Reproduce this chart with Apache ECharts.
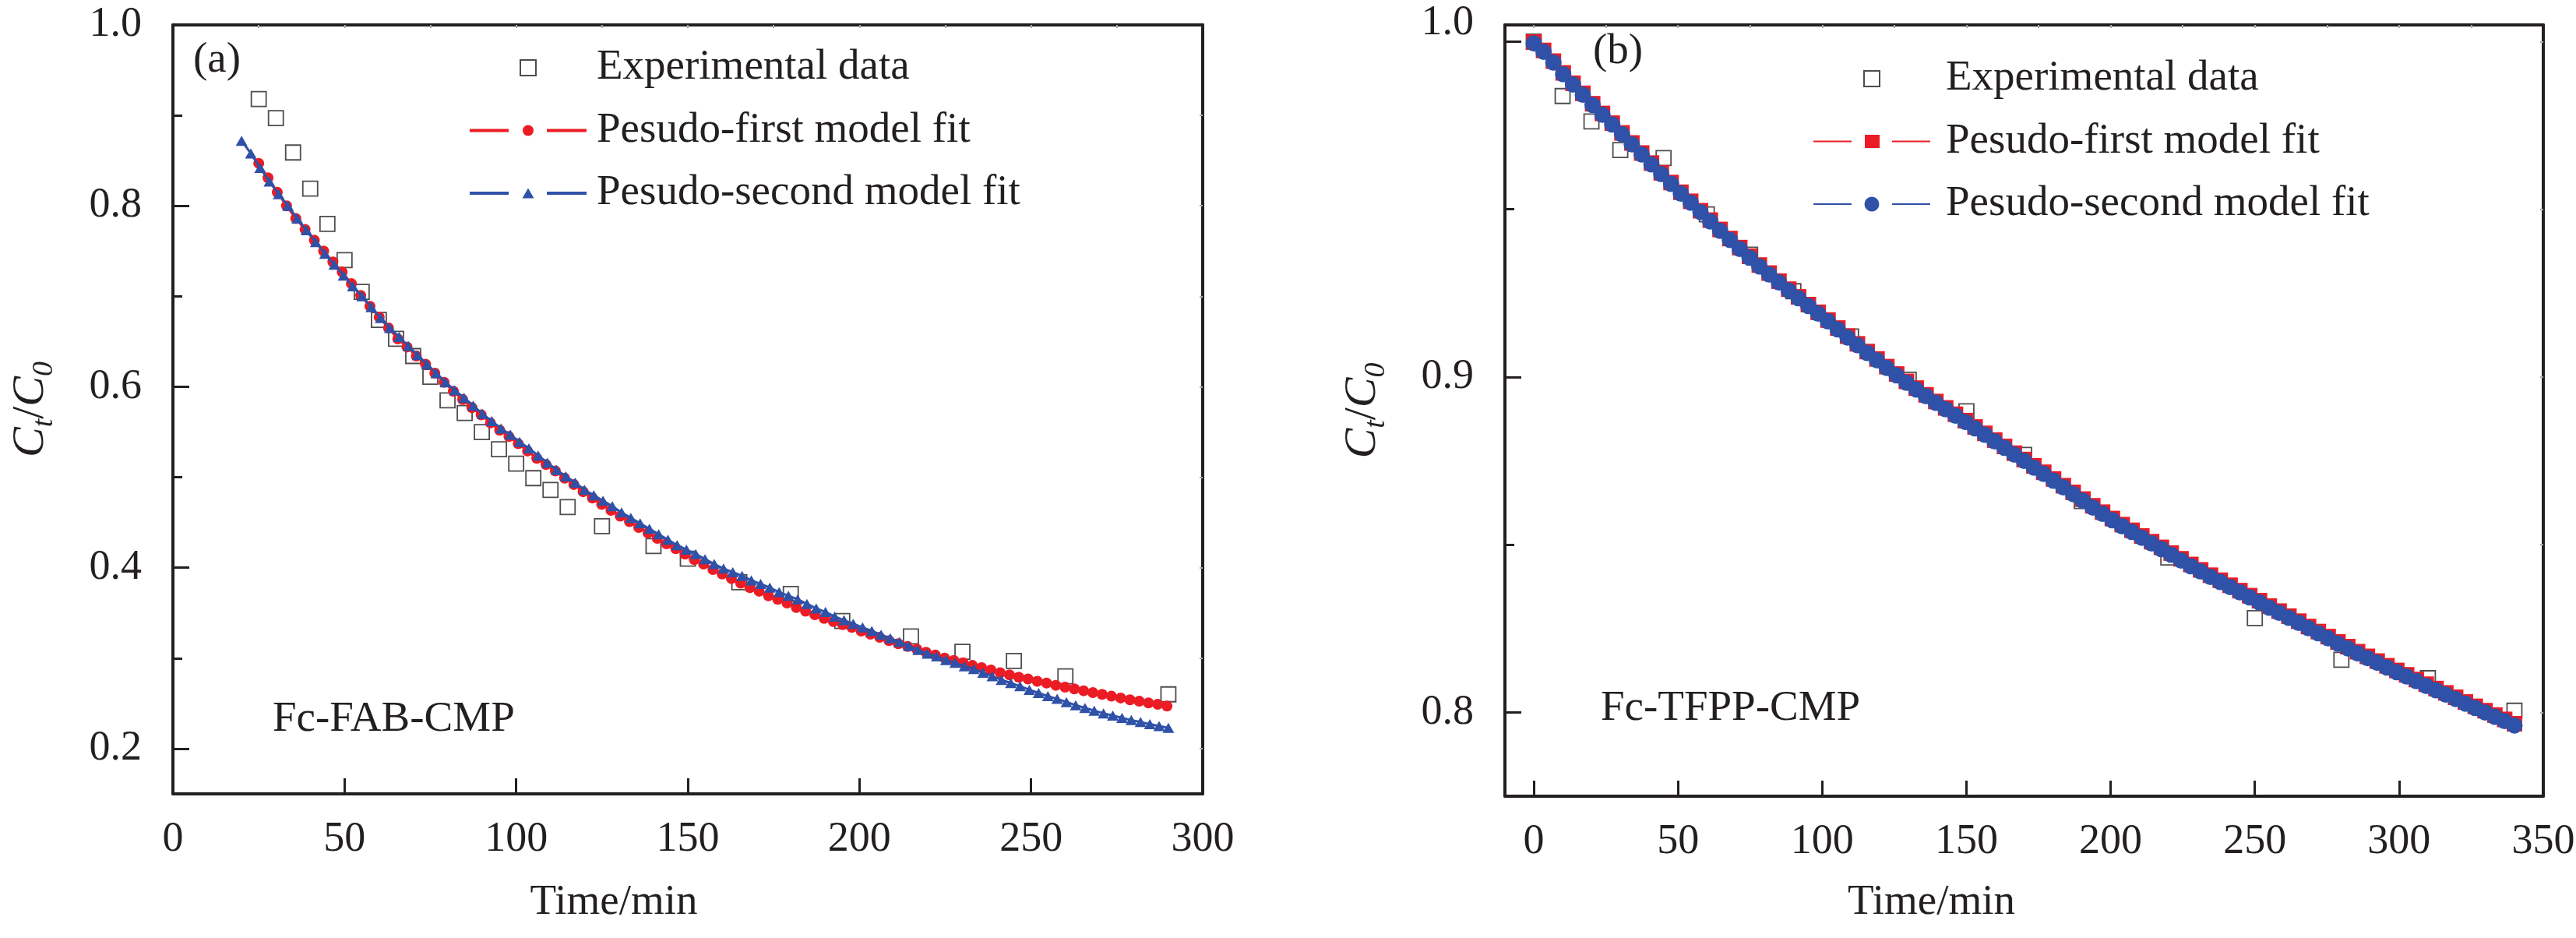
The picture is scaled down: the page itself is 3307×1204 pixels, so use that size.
<!DOCTYPE html>
<html>
<head>
<meta charset="utf-8">
<script src="https://cdn.jsdelivr.net/npm/echarts@6/dist/echarts.min.js"></script>
<style>html,body{margin:0;padding:0;background:#fff}#c{width:3307px;height:1204px}</style>
</head>
<body>
<div id="c"></div>
<script>
// ---------- Panel (a): Fc-FAB-CMP ----------
const leftExpT = [25,30,35,40,45,50,55,60,65,70,75,80,85,90,95,100,105,110,115,125,140,150,165,180,195,215,230,245,260,290];
const leftExpV = [0.918,0.897,0.859,0.819,0.780,0.740,0.705,0.674,0.653,0.634,0.611,0.585,0.571,0.550,0.531,0.515,0.499,0.486,0.467,0.446,0.424,0.410,0.384,0.371,0.341,0.324,0.307,0.297,0.280,0.260];

const leftP1T = [25.0,27.7,30.4,33.1,35.8,38.5,41.2,43.9,46.6,49.3,52.0,54.7,57.4,60.1,62.8,65.5,68.2,70.9,73.6,76.3,79.0,81.7,84.4,87.1,89.8,92.5,95.2,97.9,100.6,103.3,106.0,108.7,111.4,114.1,116.8,119.5,122.2,124.9,127.6,130.3,133.0,135.7,138.4,141.1,143.8,146.5,149.2,151.9,154.6,157.3,160.0,162.7,165.4,168.1,170.8,173.5,176.2,178.9,181.6,184.3,187.0,189.7,192.4,195.1,197.8,200.5,203.2,205.9,208.6,211.3,214.0,216.7,219.4,222.1,224.8,227.5,230.2,232.9,235.6,238.3,241.0,243.7,246.4,249.1,251.8,254.5,257.2,259.9,262.6,265.3,268.0,270.7,273.4,276.1,278.8,281.5,284.2,286.9,289.6];
const leftP1V = [0.847,0.831,0.815,0.800,0.786,0.774,0.762,0.750,0.738,0.727,0.714,0.701,0.689,0.677,0.665,0.653,0.644,0.634,0.625,0.615,0.605,0.595,0.586,0.577,0.569,0.560,0.552,0.545,0.537,0.529,0.521,0.514,0.507,0.499,0.492,0.484,0.477,0.470,0.4635,0.457,0.451,0.4445,0.4385,0.4325,0.4265,0.421,0.415,0.409,0.404,0.398,0.393,0.388,0.383,0.378,0.374,0.369,0.365,0.361,0.356,0.352,0.348,0.344,0.3405,0.337,0.334,0.330,0.3265,0.323,0.3195,0.316,0.313,0.310,0.3065,0.3035,0.300,0.2975,0.295,0.292,0.2895,0.287,0.284,0.2815,0.279,0.277,0.2745,0.2725,0.270,0.268,0.266,0.264,0.262,0.260,0.258,0.256,0.254,0.2525,0.2505,0.249,0.247];

const leftP2T = [20.0,22.7,25.4,28.1,30.8,33.5,36.2,38.9,41.6,44.3,47.0,49.7,52.4,55.1,57.8,60.5,63.2,65.9,68.6,71.3,74.0,76.7,79.4,82.1,84.8,87.5,90.2,92.9,95.6,98.3,101.0,103.7,106.4,109.1,111.8,114.5,117.2,119.9,122.6,125.3,128.0,130.7,133.4,136.1,138.8,141.5,144.2,146.9,149.6,152.3,155.0,157.7,160.4,163.1,165.8,168.5,171.2,173.9,176.6,179.3,182.0,184.7,187.4,190.1,192.8,195.5,198.2,200.9,203.6,206.3,209.0,211.7,214.4,217.1,219.8,222.5,225.2,227.9,230.6,233.3,236.0,238.7,241.4,244.1,246.8,249.5,252.2,254.9,257.6,260.3,263.0,265.7,268.4,271.1,273.8,276.5,279.2,281.9,284.6,287.3,290.0];
const leftP2V = [0.872,0.858,0.842,0.827,0.813,0.800,0.786,0.773,0.760,0.747,0.735,0.723,0.711,0.700,0.688,0.676,0.665,0.655,0.645,0.635,0.625,0.615,0.605,0.596,0.588,0.579,0.570,0.562,0.554,0.547,0.539,0.532,0.524,0.516,0.508,0.501,0.494,0.486,0.480,0.474,0.468,0.461,0.455,0.449,0.443,0.437,0.431,0.425,0.420,0.415,0.4095,0.404,0.399,0.395,0.391,0.386,0.382,0.378,0.373,0.369,0.365,0.360,0.355,0.351,0.346,0.342,0.338,0.334,0.330,0.326,0.322,0.318,0.3135,0.309,0.305,0.302,0.298,0.295,0.291,0.288,0.284,0.280,0.276,0.2725,0.269,0.265,0.2615,0.258,0.255,0.2515,0.248,0.245,0.242,0.239,0.2365,0.234,0.2315,0.2295,0.227,0.225,0.223];

// ---------- Panel (b): Fc-TFPP-CMP ----------
const rightExpT = [0,10,20,30,45,60,75,90,110,130,150,170,190,220,250,280,310,340];
const rightExpV = [1.000,0.9838,0.9762,0.9677,0.9653,0.9485,0.9365,0.9256,0.9121,0.8992,0.8898,0.8768,0.8630,0.8462,0.8281,0.8157,0.8102,0.8005];

const rightFitT = [0,3.4,6.8,10.2,13.6,17.0,20.4,23.8,27.2,30.6,34.0,37.4,40.8,44.2,47.6,51.0,54.4,57.8,61.2,64.6,68.0,71.4,74.8,78.2,81.6,85.0,88.4,91.8,95.2,98.6,102.0,105.4,108.8,112.2,115.6,119.0,122.4,125.8,129.2,132.6,136.0,139.4,142.8,146.2,149.6,153.0,156.4,159.8,163.2,166.6,170.0,173.4,176.8,180.2,183.6,187.0,190.4,193.8,197.2,200.6,204.0,207.4,210.8,214.2,217.6,221.0,224.4,227.8,231.2,234.6,238.0,241.4,244.8,248.2,251.6,255.0,258.4,261.8,265.2,268.6,272.0,275.4,278.8,282.2,285.6,289.0,292.4,295.8,299.2,302.6,306.0,309.4,312.8,316.2,319.6,323.0,326.4,329.8,333.2,336.6,340.0];
const rightP1V = [0.9999,0.9974,0.9942,0.9907,0.9876,0.9846,0.9815,0.9786,0.9757,0.9728,
0.9698,0.9668,0.9638,0.9609,0.9580,0.9551,0.9524,0.9496,0.9468,0.9440,
0.9413,0.9386,0.9360,0.9334,0.9310,0.9286,0.9262,0.9239,0.9216,0.9193,
0.9170,0.9146,0.9122,0.9099,0.9076,0.9054,0.9031,0.9009,0.8987,0.8967,
0.8947,0.8927,0.8908,0.8889,0.8870,0.8851,0.8832,0.8812,0.8793,0.8773,
0.8754,0.8735,0.8716,0.8696,0.8676,0.8656,0.8636,0.8616,0.8597,0.8578,
0.8560,0.8543,0.8526,0.8509,0.8492,0.8475,0.8458,0.8441,0.8425,0.8409,
0.8394,0.8379,0.8363,0.8348,0.8333,0.8317,0.8302,0.8287,0.8272,0.8256,
0.8241,0.8226,0.8210,0.8196,0.8181,0.8167,0.8153,0.8139,0.8125,0.8112,
0.8098,0.8084,0.8071,0.8058,0.8045,0.8031,0.8018,0.8005,0.7992,0.7979,
0.7966];
const rightP2V = [0.9995,0.9970,0.9938,0.9903,0.9872,0.9842,0.9811,0.9782,0.9753,0.9724,
0.9694,0.9664,0.9634,0.9605,0.9576,0.9547,0.9520,0.9492,0.9464,0.9436,
0.9409,0.9382,0.9356,0.9330,0.9306,0.9282,0.9258,0.9235,0.9212,0.9189,
0.9166,0.9142,0.9118,0.9095,0.9072,0.9050,0.9027,0.9005,0.8983,0.8963,
0.8943,0.8923,0.8904,0.8885,0.8866,0.8847,0.8828,0.8808,0.8789,0.8769,
0.8750,0.8730,0.8711,0.8691,0.8671,0.8651,0.8631,0.8611,0.8592,0.8573,
0.8555,0.8538,0.8521,0.8504,0.8487,0.8470,0.8453,0.8436,0.8420,0.8404,
0.8389,0.8374,0.8358,0.8343,0.8328,0.8312,0.8297,0.8282,0.8267,0.8251,
0.8236,0.8221,0.8205,0.8191,0.8176,0.8162,0.8148,0.8134,0.8120,0.8107,
0.8093,0.8079,0.8066,0.8053,0.8040,0.8026,0.8013,0.8000,0.7987,0.7974,
0.7961];

// ---------- Tick values ----------
const leftXLabels = [0,50,100,150,200,250,300];
const leftXTicks = [50,100,150,200,250];
const leftTopTicks = [25,50,75,100,125,150,175,200,225,250,275];
const leftYLabels = [0.2,0.4,0.6,0.8,1.0];
const leftYMinor = [0.3,0.5,0.7,0.9];
const leftRightTicks = [0.2,0.3,0.4,0.5,0.6,0.7,0.8,0.9];

const rightXLabels = [0,50,100,150,200,250,300,350];
const rightXTicks = [0,50,100,150,200,250,300];
const rightTopTicks = [0,25,50,75,100,125,150,175,200,225,250,275,300,325];
const rightYLabels = [0.8,0.9,1.0];
const rightYMinor = [0.85,0.95];
const rightRightTicks = [0.8,0.85,0.9,0.95,1.0];

const legendNames = ['Experimental data','Pesudo-first model fit','Pesudo-second model fit'];
const panelLabels = ['(a)','(b)'];
const sampleNames = ['Fc-FAB-CMP','Fc-TFPP-CMP'];

// ---------- Styling ----------
const FONT = '"Liberation Serif","Times New Roman",serif';
const INK = '#231f20';
const RED = '#ec1c24';
const BLUE = '#2f51a7';
const pairs = (xs, ys) => xs.map((x, i) => [x, ys[i]]);

const nameRich = {
  c:  {fontFamily: FONT, fontStyle: 'italic', fontSize: 58, color: INK, lineHeight: 64},
  sl: {fontFamily: FONT, fontSize: 58, color: INK, lineHeight: 64},
  s:  {fontFamily: FONT, fontStyle: 'italic', fontSize: 38, color: INK, lineHeight: 38, padding: [34, 0, 0, 0]}
};
const yName = '{c|C}{s|t}{sl|/}{c|C}{s|0}';

function mainX(grid, min, max, labels, ticks, padRight, gap) {
  return {
    type: 'value', gridIndex: grid, min: min, max: max, position: 'bottom',
    axisLine: {onZero: false, lineStyle: {color: INK, width: 4}},
    axisTick: {inside: true, length: 20, customValues: ticks, lineStyle: {color: INK, width: 3}},
    axisLabel: {customValues: labels, fontFamily: FONT, fontSize: 54, color: INK, margin: 32},
    splitLine: {show: false},
    name: 'Time/min', nameLocation: 'middle', nameGap: gap,
    nameTextStyle: {fontFamily: FONT, fontSize: 55, color: INK, padding: [0, padRight, 0, 0]}
  };
}
function topX(grid, min, max, ticks) {
  return {
    type: 'value', gridIndex: grid, min: min, max: max, position: 'top',
    axisLine: {onZero: false, lineStyle: {color: INK, width: 4}},
    axisTick: {inside: true, length: 4, customValues: ticks, lineStyle: {color: '#aaaaaa', width: 2}},
    axisLabel: {show: false}, splitLine: {show: false}
  };
}
function mainY(grid, min, max, labels, shiftTop) {
  return {
    type: 'value', gridIndex: grid, min: min, max: max, position: 'left',
    axisLine: {onZero: false, lineStyle: {color: INK, width: 4}},
    axisTick: {inside: true, length: 21, customValues: labels, lineStyle: {color: INK, width: 3}},
    axisLabel: {
      customValues: labels, fontFamily: FONT, fontSize: 54, color: INK, margin: 40,
      formatter: v => (shiftTop && v === 1) ? '{up|1.0}' : v.toFixed(1),
      rich: {up: {fontFamily: FONT, fontSize: 54, color: INK, padding: [0, 0, 48, 0]}}
    },
    splitLine: {show: false},
    name: yName, nameLocation: 'middle', nameGap: 150, nameRotate: 90,
    nameTextStyle: {rich: nameRich}
  };
}
function minorY(grid, min, max, ticks) {
  return {
    type: 'value', gridIndex: grid, min: min, max: max, position: 'left',
    axisLine: {show: false, onZero: false},
    axisTick: {inside: true, length: 12, customValues: ticks, lineStyle: {color: INK, width: 3}},
    axisLabel: {show: false}, splitLine: {show: false}
  };
}
function rightY(grid, min, max, ticks) {
  return {
    type: 'value', gridIndex: grid, min: min, max: max, position: 'right',
    axisLine: {onZero: false, lineStyle: {color: INK, width: 4}},
    axisTick: {inside: true, length: 4, customValues: ticks, lineStyle: {color: '#aaaaaa', width: 2}},
    axisLabel: {show: false}, splitLine: {show: false}
  };
}

const ICON_SQ = 'path://M0,0L20,0L20,20L0,20Z';
const ICON_A_RED = 'path://M0,8L50,8L50,12L0,12ZM99,8L150,8L150,12L99,12ZM68,10A7,7,0,1,1,82,10A7,7,0,1,1,68,10Z';
const ICON_A_BLUE = 'path://M0,8L50,8L50,12L0,12ZM99,8L150,8L150,12L99,12ZM75,3.5L82.5,16.5L67.5,16.5Z';
const ICON_B_RED = 'path://M0,9L49,9L49,11L0,11ZM101,9L150,9L150,11L101,11ZM66,1.5L85,1.5L85,18.5L66,18.5Z';
const ICON_B_BLUE = 'path://M0,9L49,9L49,11L0,11ZM101,9L150,9L150,11L101,11ZM65.5,10A9.5,9.5,0,1,1,84.5,10A9.5,9.5,0,1,1,65.5,10Z';

function legendBlock(left, top, suffix, iconRed, iconBlue, textPad) {
  return {
    left: left, top: top, orient: 'vertical', itemWidth: 150, itemHeight: 20, itemGap: 24.5,
    symbolKeepAspect: true, selectedMode: false,
    textStyle: {fontFamily: FONT, fontSize: 55, color: INK, lineHeight: 56, padding: [0, 0, 0, textPad]},
    data: [
      {name: legendNames[0] + suffix, icon: ICON_SQ, itemStyle: {color: 'rgba(255,255,255,0)', borderColor: INK, borderWidth: 2}},
      {name: legendNames[1] + suffix, icon: iconRed, itemStyle: {color: RED, borderWidth: 0}},
      {name: legendNames[2] + suffix, icon: iconBlue, itemStyle: {color: BLUE, borderWidth: 0}}
    ]
  };
}

function txt(x, y, s) {
  return {type: 'text', x: x, y: y, style: {text: s, fontFamily: FONT, fontSize: 55, fill: INK, align: 'left', verticalAlign: 'middle'}};
}

const option = {
  animation: false,
  backgroundColor: '#ffffff',
  grid: [
    {left: 222, top: 32, width: 1322, height: 987, outerBoundsMode: 'none'},
    {left: 1932, top: 32, width: 1333, height: 990, outerBoundsMode: 'none'}
  ],
  xAxis: [
    mainX(0, 0, 300, leftXLabels, leftXTicks, 190, 112),
    topX(0, 0, 300, leftTopTicks),
    mainX(1, -10, 350, rightXLabels, rightXTicks, 238, 109),
    topX(1, -10, 350, rightTopTicks)
  ],
  yAxis: [
    mainY(0, 0.15, 1.0, leftYLabels, false),
    minorY(0, 0.15, 1.0, leftYMinor),
    rightY(0, 0.15, 1.0, leftRightTicks),
    mainY(1, 0.775, 1.005, rightYLabels, true),
    minorY(1, 0.775, 1.005, rightYMinor),
    rightY(1, 0.775, 1.005, rightRightTicks)
  ],
  legend: [
    legendBlock(598, 54, '', ICON_A_RED, ICON_A_BLUE, 8),
    legendBlock(2323, 68, ' ', ICON_B_RED, ICON_B_BLUE, 15)
  ],
  graphic: [
    txt(248, 78, panelLabels[0]),
    txt(2045, 67, panelLabels[1]),
    txt(350, 924, sampleNames[0]),
    txt(2055, 910, sampleNames[1])
  ],
  series: [
    {type: 'scatter', name: legendNames[0], xAxisIndex: 0, yAxisIndex: 0, data: pairs(leftExpT, leftExpV),
     symbol: 'rect', symbolSize: 19, itemStyle: {color: 'rgba(255,255,255,0)', borderColor: INK, borderWidth: 1.8}, z: 2},
    {type: 'line', name: legendNames[1], xAxisIndex: 0, yAxisIndex: 0, data: pairs(leftP1T, leftP1V),
     symbol: 'circle', symbolSize: 14, showAllSymbol: true, itemStyle: {color: RED}, lineStyle: {color: RED, width: 3}, z: 3},
    {type: 'line', name: legendNames[2], xAxisIndex: 0, yAxisIndex: 0, data: pairs(leftP2T, leftP2V),
     symbol: 'triangle', symbolSize: [15, 13], showAllSymbol: true, itemStyle: {color: BLUE}, lineStyle: {color: BLUE, width: 3}, z: 4},

    {type: 'scatter', name: legendNames[0] + ' ', xAxisIndex: 2, yAxisIndex: 3, data: pairs(rightExpT, rightExpV),
     symbol: 'rect', symbolSize: 19, itemStyle: {color: 'rgba(255,255,255,0)', borderColor: INK, borderWidth: 1.8}, z: 2},
    {type: 'line', name: legendNames[1] + ' ', xAxisIndex: 2, yAxisIndex: 3, data: pairs(rightFitT, rightP1V),
     symbol: 'rect', symbolSize: 20, showAllSymbol: true, itemStyle: {color: RED}, lineStyle: {color: RED, width: 1.5}, z: 3},
    {type: 'line', name: legendNames[2] + ' ', xAxisIndex: 2, yAxisIndex: 3, data: pairs(rightFitT, rightP2V),
     symbol: 'circle', symbolSize: 21, showAllSymbol: true, itemStyle: {color: BLUE}, lineStyle: {color: BLUE, width: 1.5}, z: 4}
  ]
};

const chart = echarts.init(document.getElementById('c'), null, {renderer: 'canvas'});
chart.setOption(option);
</script>
</body>
</html>
